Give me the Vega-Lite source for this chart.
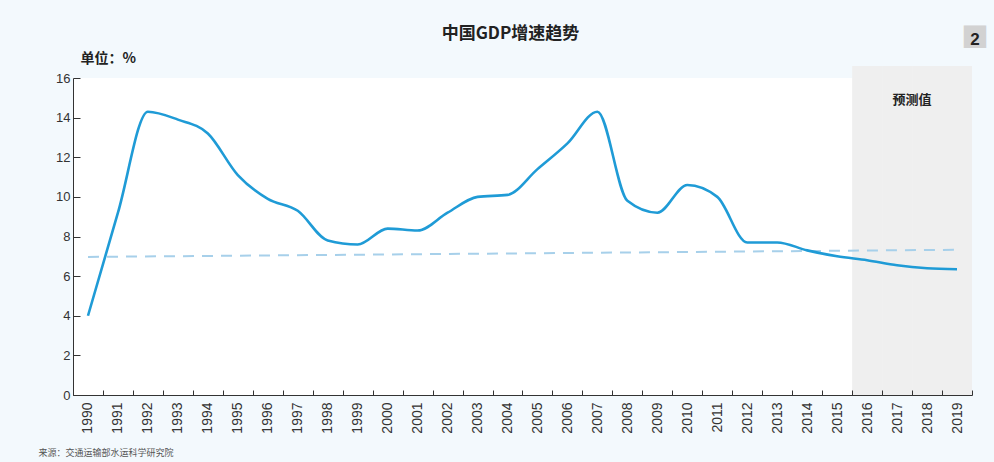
{
  "$schema": "https://vega.github.io/schema/vega-lite/v6.json",
  "width": 899,
  "height": 317,
  "autosize": "none",
  "padding": {"left": 73, "top": 78, "right": 22, "bottom": 67},
  "background": "#f3f9fd",
  "view": {"fill": "white", "stroke": null},
  "config": {
    "font": "Liberation Sans",
    "axis": {"labelOverlap": false},
    "axisY": {
      "tickCount": 10,
      "labelFontSize": 13,
      "labelColor": "#333333",
      "labelPadding": 10,
      "tickSize": -7,
      "tickColor": "#333333",
      "domainColor": "#333333",
      "grid": false,
      "titleFont": "Noto Sans CJK SC",
      "titleFontSize": 14,
      "titleFontWeight": "bold",
      "titleColor": "#222222",
      "titleAngle": 0,
      "titleAnchor": "start",
      "titleAlign": "left",
      "titleBaseline": "middle",
      "titleX": 7,
      "titleY": -20
    }
  },
  "title": {
    "text": "中国GDP增速趋势",
    "font": "Noto Sans CJK SC",
    "fontSize": 17,
    "fontWeight": "bold",
    "color": "#222222",
    "anchor": "middle",
    "frame": "group",
    "dx": -12,
    "dy": 21,
    "offset": 4
  },
  "datasets": {
    "gdp": [
      {"year": "1990", "rate": 4.0},
      {"year": "1991", "rate": 9.2},
      {"year": "1992", "rate": 14.3},
      {"year": "1993", "rate": 13.9},
      {"year": "1994", "rate": 13.2},
      {"year": "1995", "rate": 11.1},
      {"year": "1996", "rate": 9.9},
      {"year": "1997", "rate": 9.3},
      {"year": "1998", "rate": 7.8},
      {"year": "1999", "rate": 7.6},
      {"year": "2000", "rate": 8.4},
      {"year": "2001", "rate": 8.3},
      {"year": "2002", "rate": 9.2},
      {"year": "2003", "rate": 10.0},
      {"year": "2004", "rate": 10.1},
      {"year": "2005", "rate": 11.4},
      {"year": "2006", "rate": 12.7},
      {"year": "2007", "rate": 14.3},
      {"year": "2008", "rate": 9.8},
      {"year": "2009", "rate": 9.2},
      {"year": "2010", "rate": 10.6},
      {"year": "2011", "rate": 10.0},
      {"year": "2012", "rate": 7.7},
      {"year": "2013", "rate": 7.7},
      {"year": "2014", "rate": 7.3},
      {"year": "2015", "rate": 7.0},
      {"year": "2016", "rate": 6.8},
      {"year": "2017", "rate": 6.55},
      {"year": "2018", "rate": 6.4},
      {"year": "2019", "rate": 6.35}
    ],
    "trend": [
      {"year": "1990", "rate": 6.97},
      {"year": "2019", "rate": 7.33}
    ],
    "forecast": [
      {"year": "2016", "lo": 0, "hi": 16.6},
      {"year": "2017", "lo": 0, "hi": 16.6},
      {"year": "2018", "lo": 0, "hi": 16.6},
      {"year": "2019", "lo": 0, "hi": 16.6}
    ]
  },
  "layer": [
    {
      "data": {"name": "forecast"},
      "mark": {"type": "rect", "color": "#efefef", "clip": false},
      "encoding": {
        "x": {
          "field": "year",
          "type": "ordinal",
          "scale": {"type": "band", "paddingInner": 0, "paddingOuter": 0},
          "axis": {
            "labelAngle": -90,
            "labelFontSize": 14,
            "labelColor": "#333333",
            "labelPadding": 12,
            "tickBand": "extent",
            "tickSize": -5,
            "tickColor": "#333333",
            "domainColor": "#333333",
            "grid": false,
            "title": "来源：交通运输部水运科学研究院",
            "titleFont": "Noto Sans CJK SC",
            "titleFontSize": 9,
            "titleFontWeight": "normal",
            "titleColor": "#555555",
            "titleAnchor": "start",
            "titleAlign": "left",
            "titleBaseline": "middle",
            "titleX": -35,
            "titleY": 57
          }
        },
        "y": {
          "field": "lo",
          "type": "quantitative",
          "scale": {"domain": [0, 16], "nice": false, "zero": true},
          "axis": {"values": [0, 2, 4, 6, 8, 10, 12, 14, 16], "tickCount": 10, "title": "单位：%"}
        },
        "y2": {"field": "hi"}
      }
    },
    {
      "data": {"name": "trend"},
      "mark": {"type": "line", "color": "#a7d0ea", "strokeWidth": 2, "strokeDash": [11, 8]},
      "encoding": {
        "x": {"field": "year", "type": "ordinal", "bandPosition": 0.5, "scale": {"type": "band", "paddingInner": 0, "paddingOuter": 0}},
        "y": {"field": "rate", "type": "quantitative", "axis": {"values": [0, 2, 4, 6, 8, 10, 12, 14, 16], "tickCount": 10, "title": "单位：%"}}
      }
    },
    {
      "data": {"name": "gdp"},
      "mark": {"type": "line", "color": "#1f9bd6", "strokeWidth": 2.6, "interpolate": "monotone"},
      "encoding": {
        "x": {"field": "year", "type": "ordinal", "bandPosition": 0.5, "scale": {"type": "band", "paddingInner": 0, "paddingOuter": 0}},
        "y": {"field": "rate", "type": "quantitative", "axis": {"values": [0, 2, 4, 6, 8, 10, 12, 14, 16], "tickCount": 10, "title": "单位：%"}}
      }
    },
    {
      "data": {"values": [{}]},
      "mark": {"type": "text", "text": "预测值", "font": "Noto Sans CJK SC", "fontSize": 13, "fontWeight": "bold", "color": "#222222", "dx": 15},
      "encoding": {
        "x": {"datum": "2017", "type": "ordinal", "bandPosition": 0.5, "scale": {"type": "band", "paddingInner": 0, "paddingOuter": 0}},
        "y": {"datum": 14.9, "type": "quantitative", "axis": {"values": [0, 2, 4, 6, 8, 10, 12, 14, 16], "tickCount": 10, "title": "单位：%"}}
      }
    },
    {
      "data": {"values": [{}]},
      "mark": {"type": "text", "text": "■", "font": "Noto Sans CJK SC", "fontSize": 28, "color": "#d2d2d2", "dx": 18, "clip": false},
      "encoding": {
        "x": {"datum": "2019", "type": "ordinal", "bandPosition": 0.5, "scale": {"type": "band", "paddingInner": 0, "paddingOuter": 0}},
        "y": {"datum": 17.9, "type": "quantitative", "axis": {"values": [0, 2, 4, 6, 8, 10, 12, 14, 16], "tickCount": 10, "title": "单位：%"}}
      }
    },
    {
      "data": {"values": [{}]},
      "mark": {"type": "text", "text": "2", "fontSize": 17, "fontWeight": "bold", "color": "#222222", "dx": 18, "clip": false},
      "encoding": {
        "x": {"datum": "2019", "type": "ordinal", "bandPosition": 0.5, "scale": {"type": "band", "paddingInner": 0, "paddingOuter": 0}},
        "y": {"datum": 17.9, "type": "quantitative", "axis": {"values": [0, 2, 4, 6, 8, 10, 12, 14, 16], "tickCount": 10, "title": "单位：%"}}
      }
    }
  ]
}
